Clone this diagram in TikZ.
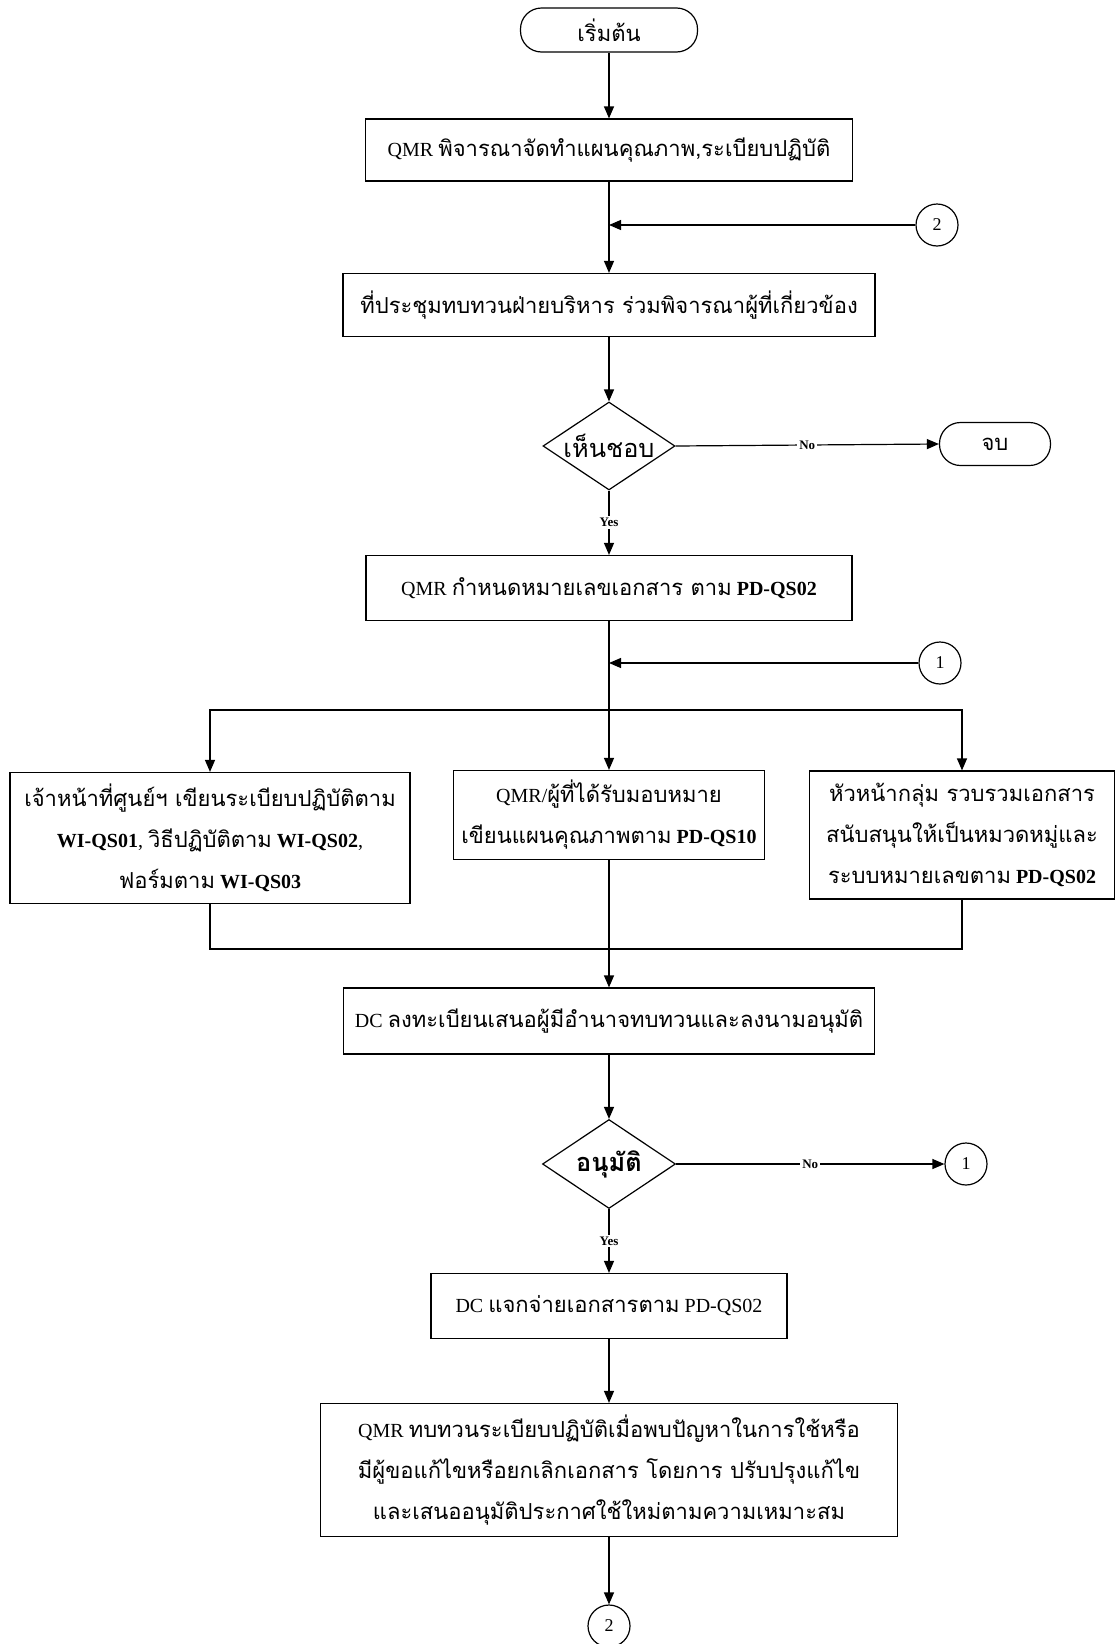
\documentclass[tikz,border=0pt]{standalone}
\usepackage{fontspec}
\setmainfont{Liberation Serif}
\newfontfamily\thaifont[Script=Thai,Scale=1.1]{Loma}
\newcommand{\T}[1]{{\thaifont #1}}
\usetikzlibrary{arrows.meta,shapes.geometric}

\tikzset{
  base/.style={draw, line width=1.2pt, align=center, inner sep=0pt,
    font=\fontsize{20}{41}\selectfont},
  procbox/.style={base, rectangle},
  termbox/.style={base, rectangle, rounded corners=21pt},
  decbox/.style={base, diamond, shape aspect=1.6, font=\fontsize{23}{28}\selectfont},
  conn/.style={draw, circle, line width=1.2pt, minimum size=42pt, inner sep=0pt,
    font=\fontsize{18}{18}\selectfont},
  arr/.style={-{Triangle[length=12pt,width=10pt]}, line width=1.2pt},
  ln/.style={line width=1.2pt},
  lbl/.style={fill=white, inner sep=2pt, font=\bfseries\fontsize{13}{13}\selectfont}
}

\begin{document}
\begin{tikzpicture}[x=1pt,y=-1pt]
\useasboundingbox (0,0) rectangle (1117,1644);

% process nodes, top to bottom
\node[termbox, minimum width=177pt, minimum height=44pt] (start) at (609,30) {\T{เริ่มต้น}};
\node[procbox, minimum width=487pt, minimum height=62pt] (plan) at (609,150)
  {QMR \T{พิจารณาจัดทำแผนคุณภาพ,ระเบียบปฏิบัติ}};
\node[conn] (c2in) at (937,225) {2};
\node[procbox, minimum width=532pt, minimum height=63pt] (meet) at (609,305)
  {\T{ที่ประชุมทบทวนฝ่ายบริหาร ร่วมพิจารณาผู้ที่เกี่ยวข้อง}};
\node[decbox, minimum width=132pt, minimum height=88pt] (agree) at (609,446) {\T{เห็นชอบ}};
\node[termbox, minimum width=111pt, minimum height=43pt] (stop) at (995,444) {\T{จบ}};
\node[procbox, minimum width=486pt, minimum height=65pt] (number) at (609,588)
  {QMR \T{กำหนดหมายเลขเอกสาร ตาม} \textbf{PD-QS02}};
\node[conn] (c1in) at (940,663) {1};

\node[procbox, minimum width=400pt, minimum height=131pt] (left) at (210,838)
  {\T{เจ้าหน้าที่ศูนย์ฯ เขียนระเบียบปฏิบัติตาม}\\
   \textbf{WI-QS01}, \T{วิธีปฏิบัติตาม} \textbf{WI-QS02},\\
   \T{ฟอร์มตาม} \textbf{WI-QS03}};
\node[procbox, minimum width=311pt, minimum height=89pt] (mid) at (609,815)
  {QMR/\T{ผู้ที่ได้รับมอบหมาย}\\
   \T{เขียนแผนคุณภาพตาม} \textbf{PD-QS10}};
\node[procbox, minimum width=305pt, minimum height=128pt] (right) at (962,835)
  {\T{หัวหน้ากลุ่ม รวบรวมเอกสาร}\\
   \T{สนับสนุนให้เป็นหมวดหมู่และ}\\
   \T{ระบบหมายเลขตาม} \textbf{PD-QS02}};

\node[procbox, minimum width=531pt, minimum height=66pt] (reg) at (609,1021)
  {DC \T{ลงทะเบียนเสนอผู้มีอำนาจทบทวนและลงนามอนุมัติ}};
\node[decbox, minimum width=133pt, minimum height=89pt] (approve) at (609,1164)
  {\T{\bfseries อนุมัติ}};
\node[conn] (c1out) at (966,1164) {1};
\node[procbox, minimum width=356pt, minimum height=65pt] (dist) at (609,1306)
  {DC \T{แจกจ่ายเอกสารตาม} PD-QS02};
\node[procbox, minimum width=577pt, minimum height=133pt] (review) at (609,1470)
  {QMR \T{ทบทวนระเบียบปฏิบัติเมื่อพบปัญหาในการใช้หรือ}\\
   \T{มีผู้ขอแก้ไขหรือยกเลิกเอกสาร โดยการ ปรับปรุงแก้ไข}\\
   \T{และเสนออนุมัติประกาศใช้ใหม่ตามความเหมาะสม}};
\node[conn] (c2out) at (609,1626) {2};

% junction points
\coordinate (split) at (609,710);
\coordinate (join) at (609,949);

% connectors
\draw[arr] (start) -- (plan);
\draw[arr] (plan) -- (meet);
\draw[arr] (c2in.west) -- (c2in.west -| plan.south);
\draw[arr] (meet) -- (agree);
\draw[arr] (agree.east) -- node[lbl] {No} (stop.west);
\draw[arr] (agree.south) -- node[lbl] {Yes} (number.north);
\draw[arr] (c1in.west) -- (c1in.west -| number.south);
\draw[arr] (number) -- (mid);
\draw[arr] (split) -| (left.north);
\draw[arr] (split) -| (right.north);
\draw[ln] (left.south) |- (join) -| (right.south);
\draw[arr] (mid) -- (reg);
\draw[arr] (reg) -- (approve);
\draw[arr] (approve.east) -- node[lbl] {No} (c1out.west);
\draw[arr] (approve.south) -- node[lbl] {Yes} (dist.north);
\draw[arr] (dist) -- (review);
\draw[arr] (review) -- (c2out);
\end{tikzpicture}
\end{document}
